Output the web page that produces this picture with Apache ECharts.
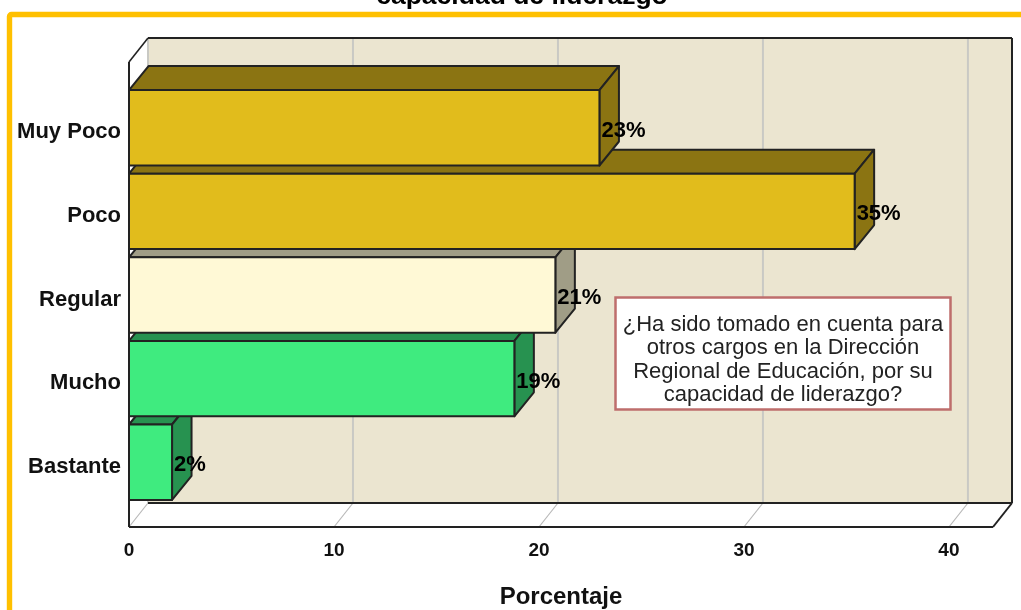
<!DOCTYPE html>
<html><head><meta charset="utf-8">
<style>html,body{margin:0;padding:0;background:#fff}#c{width:1021px;height:610px}</style>
<script src="https://cdn.jsdelivr.net/npm/echarts@6/dist/echarts.min.js"></script>
</head><body><div id="c"></div>
<script>
const categories = ['Bastante', 'Mucho', 'Regular', 'Poco', 'Muy Poco'];
const values = [2.1, 18.8, 20.8, 35.4, 22.95];
const valueLabels = ['2%', '19%', '21%', '35%', '23%'];
const xTicks = [0, 10, 20, 30, 40];
const frontColors = ['#3FEB7F', '#3FEB7F', '#FFF9D6', '#E1BC1C', '#E1BC1C'];
const sideColors = ['#279250', '#279250', '#A09D86', '#8B7412', '#8B7412'];
const titleText = 'capacidad de liderazgo';
const xName = 'Porcentaje';
const noteLines = ['¿Ha sido tomado en cuenta para', 'otros cargos en la Dirección', 'Regional de Educación, por su', 'capacidad de liderazgo?'];

const DX = 19, DY = -24, BAR_DX = 19.5, EDGE = '#222';
const X_MAX = 42.15;
const chart = echarts.init(document.getElementById('c'), null, {renderer: 'canvas'});

function wallsItem(params, api) {
  const band = api.size([0, 1])[1];
  const x0 = api.coord([0, 0])[0], x1 = api.coord([X_MAX, 0])[0];
  const yB = api.coord([0, 0])[1] + band / 2 - DY - 1;
  const yT = api.coord([0, categories.length - 1])[1] - band / 2 + DY;
  const poly = (pts, fill) => ({type: 'polygon', shape: {points: pts}, style: {fill: fill}});
  const line = (a, b, c, lw) => ({type: 'line', shape: {x1: a[0], y1: a[1], x2: b[0], y2: b[1]},
    style: {stroke: c, lineWidth: lw}});
  const ch = [
    poly([[x0 + DX, yT + DY], [x1 + DX, yT + DY], [x1 + DX, yB + DY], [x0 + DX, yB + DY]], '#EBE5D0'),
    poly([[x0, yT], [x0 + DX, yT + DY], [x0 + DX, yB + DY], [x0, yB]], '#fff'),
    poly([[x0, yB], [x0 + DX, yB + DY], [x1 + DX, yB + DY], [x1, yB]], '#fff')
  ];
  xTicks.forEach(t => {
    const x = api.coord([t, 0])[0];
    ch.push(line([x + DX, yT + DY], [x + DX, yB + DY], '#C9C9C4', 2));
    ch.push(line([x, yB], [x + DX, yB + DY], '#B8B8B8', 1.2));
  });
  ch.push(line([x0, yT], [x0, yB], EDGE, 2));
  ch.push(line([x0, yT], [x0 + DX, yT + DY], EDGE, 1.6));
  ch.push(line([x0 + DX, yT + DY], [x1 + DX, yT + DY], EDGE, 2));
  ch.push(line([x1 + DX, yT + DY], [x1 + DX, yB + DY], EDGE, 2));
  ch.push(line([x0 + DX, yB + DY], [x1 + DX, yB + DY], EDGE, 2));
  ch.push(line([x0, yB], [x1, yB], EDGE, 2));
  ch.push(line([x1, yB], [x1 + DX, yB + DY], EDGE, 2));
  return {type: 'group', children: ch};
}

function barItem(params, api) {
  const v = api.value(0), c = api.value(1), i = params.dataIndex;
  const p0 = api.coord([0, c]), p1 = api.coord([v, c]);
  const h = api.size([0, 1])[1] * 0.902;
  const x0 = p0[0], x1 = p1[0], yt = p0[1] - h / 2, yb = p0[1] + h / 2;
  const st = fill => ({fill: fill, stroke: EDGE, lineWidth: 2, lineJoin: 'round'});
  return {type: 'group', children: [
    {type: 'polygon', shape: {points: [[x0, yt], [x0 + BAR_DX, yt + DY], [x1 + BAR_DX, yt + DY], [x1, yt]]}, style: st(sideColors[i])},
    {type: 'polygon', shape: {points: [[x1, yt], [x1 + BAR_DX, yt + DY], [x1 + BAR_DX, yb + DY], [x1, yb]]}, style: st(sideColors[i])},
    {type: 'rect', shape: {x: x0, y: yt, width: x1 - x0, height: yb - yt}, style: st(frontColors[i])}
  ]};
}

function labelItem(params, api) {
  const p = api.coord([api.value(0), api.value(1)]);
  return {type: 'text', style: {x: p[0] + 2, y: p[1] + 3, text: valueLabels[params.dataIndex],
    font: 'bold 22px "Liberation Sans"', fill: '#000', textVerticalAlign: 'middle', textBaseline: 'middle'}};
}

const pairs = values.map((v, i) => [v, i]);
chart.setOption({
  animation: false,
  backgroundColor: '#fff',
  title: {text: titleText, left: 517, textAlign: 'center', top: -22,
    textStyle: {fontFamily: 'Liberation Sans', fontWeight: 'bold', fontSize: 26.5, color: '#000'}},
  grid: {left: 129, top: 86, width: 864, height: 418, containLabel: false, outerBoundsMode: 'none'},
  xAxis: {type: 'value', min: 0, max: X_MAX, interval: 10, offset: 23,
    axisLine: {show: false}, axisTick: {show: false}, splitLine: {show: false},
    axisLabel: {showMaxLabel: false, margin: 14, color: '#111', fontFamily: 'Liberation Sans', fontWeight: 'bold', fontSize: 19},
    name: xName, nameLocation: 'middle', nameGap: 58,
    nameTextStyle: {fontFamily: 'Liberation Sans', fontWeight: 'bold', fontSize: 24, color: '#111'}},
  yAxis: {type: 'category', data: categories,
    axisLine: {show: false}, axisTick: {show: false}, splitLine: {show: false},
    axisLabel: {margin: 8, verticalAlign: 'top', lineHeight: 9, color: '#111', fontFamily: 'Liberation Sans', fontWeight: 'bold', fontSize: 22}},
  series: [
    {type: 'custom', z: 1, silent: true, renderItem: wallsItem, data: [[0, 0]], encode: {x: 0, y: 1}},
    {type: 'custom', z: 2, silent: true, renderItem: barItem, data: pairs, encode: {x: 0, y: 1}},
    {type: 'custom', z: 3, silent: true, renderItem: labelItem, data: pairs, encode: {x: 0, y: 1}}
  ],
  graphic: [
    {type: 'rect', z: 0, shape: {x: 9.5, y: 14.5, width: 1100, height: 700, r: 2},
      style: {fill: 'none', stroke: '#FFC000', lineWidth: 5.4}},
    {type: 'rect', z: 10, shape: {x: 615.5, y: 297.5, width: 335, height: 112},
      style: {fill: '#fff', stroke: '#BE6E6C', lineWidth: 2.5}},
    {type: 'text', z: 11, style: {x: 783, y: 360, text: noteLines.join('\n'), textAlign: 'center', textVerticalAlign: 'middle',
      font: '22px "Liberation Sans"', lineHeight: 23.5, fill: '#222'}}
  ]
});
</script></body></html>
